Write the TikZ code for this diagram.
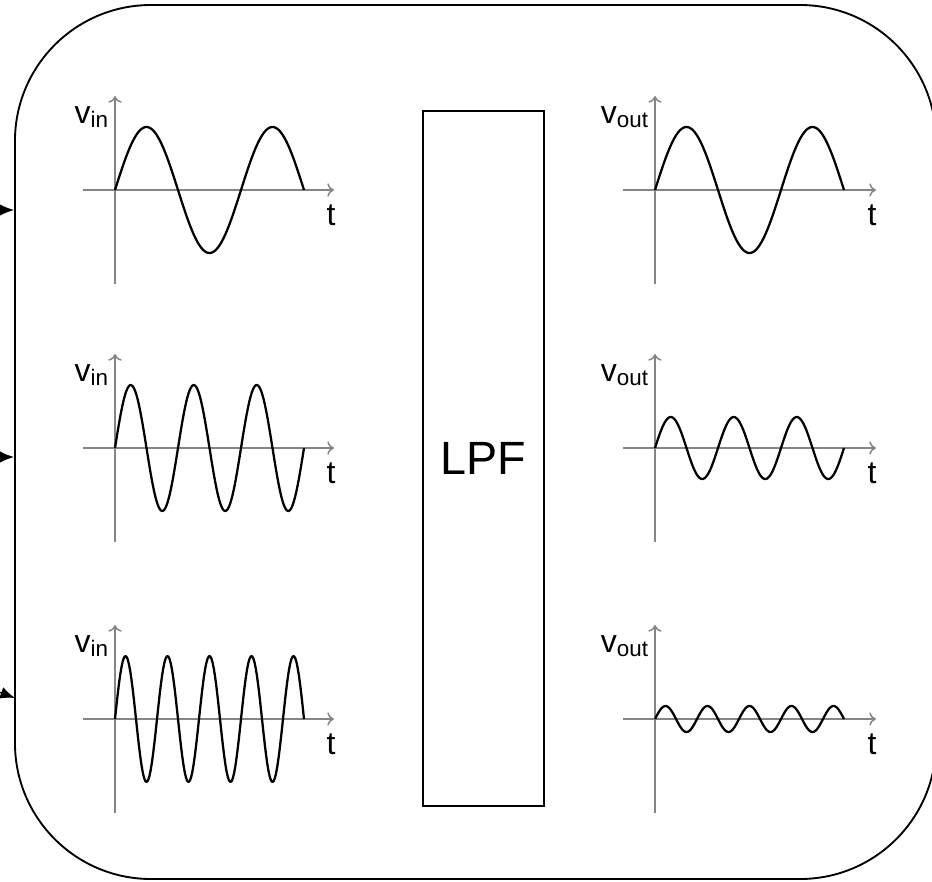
\documentclass[tikz,border=0pt]{standalone}
\usepackage{fontspec}
\setmainfont{Liberation Sans}
\usepackage{tikz}
\usetikzlibrary{arrows.meta,positioning,calc}
\definecolor{ink}{HTML}{000000}
\definecolor{axisgray}{HTML}{858585}

\begin{document}
\begin{tikzpicture}[
  x=0.75pt,y=-0.75pt,
  every node/.style={font=\fontsize{24}{28}\selectfont,inner sep=0pt},
  frame/.style={draw=ink,line width=1.4pt,rounded corners=102pt,minimum width=690.8pt,minimum height=655.5pt},
  filter/.style={draw=ink,line width=1.5pt,minimum width=90.8pt,minimum height=521pt,font=\fontsize{35}{40}\selectfont},
  axis/.style={draw=axisgray,line width=1.1pt},
  wave/.style={draw=ink,line width=1.7pt,line join=round},
  arrow/.style={-{Latex[length=11pt,width=9pt]},line width=1pt,color=ink}
]
\useasboundingbox (0,0) rectangle (932,882);
\node[frame] (frame) at (475.5,442) {};
\node[filter] (lpf) at (483.5,458.5) {LPF};
% one row per input frequency
\foreach \oy/\cyc/\aout [count=\i] in {190/1.5/63, 448/3/31, 719/4.5/13}{
  % input side
  \draw[axis,-{To[length=5pt,width=10pt]}] (115,\oy+94) -- (115,\oy-94);
  \draw[axis,-{To[length=5pt,width=10pt]}] (83,\oy) -- (334,\oy);
  \draw[wave] plot[domain=0:189,samples=150] ({115+\x},{\oy-63*sin(\x/189*\cyc*360)});
  \node[anchor=base east] (vin\i) at (109,\oy-67) {v\textsubscript{in}};
  \node[anchor=base] (tin\i) at (331,\oy+35) {t};
  % output side
  \draw[axis,-{To[length=5pt,width=10pt]}] (655,\oy+94) -- (655,\oy-94);
  \draw[axis,-{To[length=5pt,width=10pt]}] (623,\oy) -- (876,\oy);
  \draw[wave] plot[domain=0:189,samples=150] ({655+\x},{\oy-\aout*sin(\x/189*\cyc*360)});
  \node[anchor=base east] (vout\i) at (649,\oy-67) {v\textsubscript{out}};
  \node[anchor=base] (tout\i) at (872,\oy+35) {t};
}
\coordinate (src1) at (-30,210);
\coordinate (src2) at (-30,457);
\coordinate (src3) at (-28,682);
\coordinate (dst3) at (15,698);
\draw[arrow] (src1) -- (src1 -| frame.west);
\draw[arrow] (src2) -- (src2 -| frame.west);
\draw[arrow] (src3) -- (dst3);
\end{tikzpicture}
\end{document}
